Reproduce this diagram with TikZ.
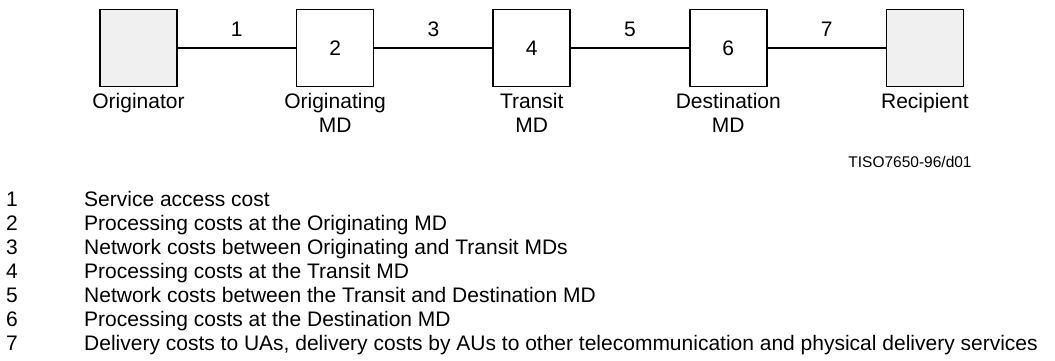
\documentclass[tikz,border=0pt]{standalone}
\usepackage{fontspec}
\setmainfont{Liberation Sans}
\usetikzlibrary{positioning}
\definecolor{endgray}{gray}{0.94}

\begin{document}
\begin{tikzpicture}[x=1pt,y=-1pt,node distance=196.6pt,on grid,auto,
    font=\fontsize{21}{24}\selectfont,
    md/.style={draw,line width=1.6pt,minimum size=77pt,inner sep=0pt},
    user/.style={md,fill=endgray},
    item/.style={anchor=base west,inner sep=0pt}]
    \useasboundingbox (0,0) rectangle (1055,360);
    \node[user] at (138.5,48) (orig) [label={[label distance=2pt]below:Originator}] {};
    \node[md,right=of orig] (omd) [label={[align=center,label distance=2pt]below:Originating\\MD}] {2};
    \node[md,right=of omd] (tmd) [label={[align=center,label distance=2pt]below:Transit\\MD}] {4};
    \node[md,right=of tmd] (dmd) [label={[align=center,label distance=2pt]below:Destination\\MD}] {6};
    \node[user,right=of dmd] (recip) [label={[label distance=2pt]below:Recipient}] {};

    \path[line width=1.6pt] (orig) edge node[yshift=7] {1} (omd);
    \path[line width=1.6pt] (omd) edge node[yshift=7] {3} (tmd);
    \path[line width=1.6pt] (tmd) edge node[yshift=7] {5} (dmd);
    \path[line width=1.6pt] (dmd) edge node[yshift=7] {7} (recip);

    \node[font=\fontsize{15.5}{18}\selectfont] at (910,162) (ref) {TISO7650-96/d01};

    \foreach \n/\desc in {1/Service access cost,
            2/Processing costs at the Originating MD,
            3/Network costs between Originating and Transit MDs,
            4/Processing costs at the Transit MD,
            5/Network costs between the Transit and Destination MD,
            6/Processing costs at the Destination MD,
            7/{Delivery costs to UAs, delivery costs by AUs to other telecommunication and physical delivery services}}
    {
        \node[item] at (6,{206+24*(\n-1)}) (num\n) {\n};
        \node[item] at (84,{206+24*(\n-1)}) (desc\n) {\desc};
    }
\end{tikzpicture}
\end{document}
